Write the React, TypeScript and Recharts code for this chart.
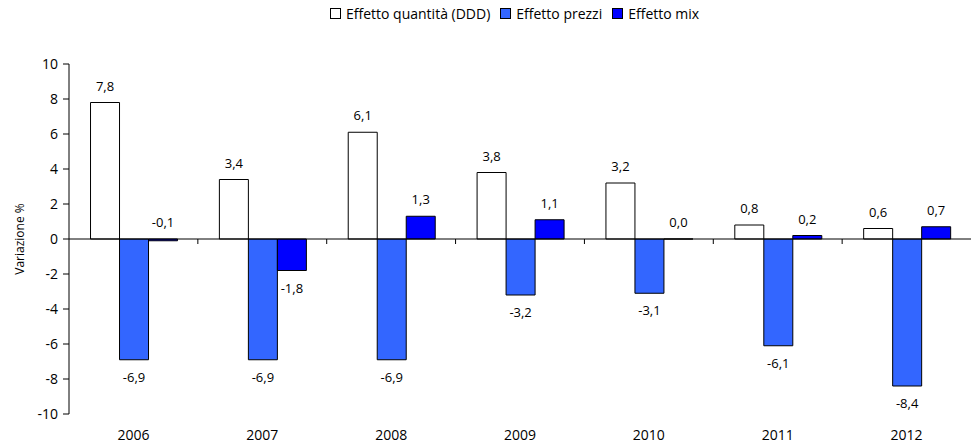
import {
  BarChart,
  Bar,
  XAxis,
  YAxis,
  Legend,
  LabelList,
  ReferenceLine,
} from "recharts";

const years = ["2006", "2007", "2008", "2009", "2010", "2011", "2012"];
const quantita = [7.8, 3.4, 6.1, 3.8, 3.2, 0.8, 0.6];
const prezzi = [-6.9, -6.9, -6.9, -3.2, -3.1, -6.1, -8.4];
const mix = [-0.1, -1.8, 1.3, 1.1, 0.0, 0.2, 0.7];
const yTicks = [-10, -8, -6, -4, -2, 0, 2, 4, 6, 8, 10];

const data = years.map((y, i) => ({
  year: y,
  quantita: quantita[i],
  prezzi: prezzi[i],
  mix: mix[i],
}));

const FONT = "'Open Sans', sans-serif";
const fmt = (v: number) => v.toFixed(1).replace(".", ",");

// label above the bar, or below it for clearly negative values
const ValueLabel = (props: any) => {
  const { x, y, width, height, value } = props;
  const cx = x + width / 2;
  const below = value < -0.5;
  const top = Math.min(y, y + height);
  const bottom = Math.max(y, y + height);
  return (
    <text
      x={cx}
      y={below ? bottom + 22 : top - 12}
      textAnchor="middle"
      fontSize={13}
      fontFamily={FONT}
      fill="#000"
    >
      {fmt(value)}
    </text>
  );
};

// zero line with category separator ticks
const ZeroLine = (props: any) => {
  const { x1, x2, y1 } = props;
  const step = (x2 - x1) / years.length;
  return (
    <g>
      <line x1={x1} x2={x2} y1={y1} y2={y1} stroke="#000" strokeWidth={1} />
      {years.slice(1).map((_, i) => (
        <line
          key={i}
          x1={x1 + step * (i + 1)}
          x2={x1 + step * (i + 1)}
          y1={y1}
          y2={y1 + 5}
          stroke="#000"
        />
      ))}
    </g>
  );
};

const YearTick = (props: any) => {
  const { x, y, payload } = props;
  return (
    <text x={x} y={y} dy={18} textAnchor="middle" fontSize={14} fontFamily={FONT} fill="#000">
      {payload.value}
    </text>
  );
};

const legendItems = [
  { name: "Effetto quantità (DDD)", color: "#ffffff" },
  { name: "Effetto prezzi", color: "#3366ff" },
  { name: "Effetto mix", color: "#0000ff" },
];

const LegendBox = () => (
  <div
    style={{
      display: "flex",
      justifyContent: "flex-start",
      fontFamily: FONT,
      fontSize: 14,
      color: "#000",
      paddingLeft: 330,
    }}
  >
    {legendItems.map((it) => (
      <span key={it.name} style={{ display: "flex", alignItems: "center", marginRight: 10 }}>
        <span
          style={{
            display: "inline-block",
            width: 9,
            height: 9,
            background: it.color,
            border: "1px solid #000",
            marginRight: 5,
          }}
        />
        {it.name}
      </span>
    ))}
  </div>
);

export default function App() {
  return (
    <div style={{ position: "absolute", left: 0, top: 0, background: "#fff" }}>
      <BarChart
        width={971}
        height={446}
        data={data}
        margin={{ top: 45, right: 0, left: 0, bottom: 0 }}
        barCategoryGap="16.7%"
        barGap={0}
      >
        <Legend
          verticalAlign="top"
          content={<LegendBox />}
          wrapperStyle={{ top: 4, left: 0, width: 971 }}
        />
        <XAxis
          dataKey="year"
          axisLine={false}
          tickLine={false}
          height={32}
          tick={<YearTick />}
          interval={0}
        />
        <YAxis
          width={69}
          domain={[-10, 10]}
          ticks={yTicks}
          tick={{ fontSize: 14, fontFamily: FONT, fill: "#000", dx: -3 }}
          tickLine={{ stroke: "#000" }}
          tickSize={6}
          axisLine={{ stroke: "#000" }}
          interval={0}
          label={{
            value: "Variazione %",
            angle: -90,
            position: "insideLeft",
            offset: 20,
            style: { fontSize: 12, fontFamily: FONT, fill: "#000", textAnchor: "middle" },
          }}
        />
        <ReferenceLine y={0} shape={<ZeroLine />} />
        <Bar dataKey="quantita" fill="#ffffff" stroke="#000" strokeWidth={1} isAnimationActive={false}>
          <LabelList dataKey="quantita" content={<ValueLabel />} />
        </Bar>
        <Bar dataKey="prezzi" fill="#3366ff" stroke="#000" strokeWidth={1} isAnimationActive={false}>
          <LabelList dataKey="prezzi" content={<ValueLabel />} />
        </Bar>
        <Bar
          dataKey="mix"
          fill="#0000ff"
          stroke="#000"
          strokeWidth={1}
          minPointSize={(v: number) => (v === 0 ? 0.01 : 0)}
          isAnimationActive={false}
        >
          <LabelList dataKey="mix" content={<ValueLabel />} />
        </Bar>
      </BarChart>
    </div>
  );
}
